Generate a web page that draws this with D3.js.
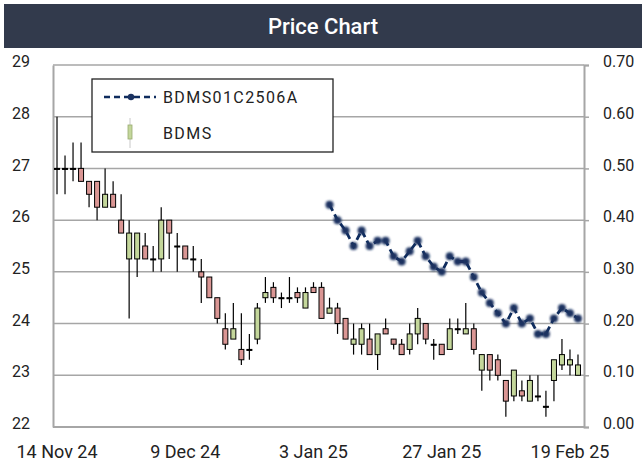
<!DOCTYPE html>
<html>
<head>
<meta charset="utf-8">
<script src="https://cdn.jsdelivr.net/npm/d3@7"></script>
<style>
  body { margin: 0; background: #fff; }
  text { font-family: Roboto, "Noto Sans", sans-serif; }
</style>
</head>
<body>
<div id="chart"></div>
<script>
// Trading days (SET), one candle each
const dates = [
  "14 Nov 24","15 Nov 24","18 Nov 24","19 Nov 24","20 Nov 24","21 Nov 24","22 Nov 24","25 Nov 24",
  "26 Nov 24","27 Nov 24","28 Nov 24","29 Nov 24","2 Dec 24","3 Dec 24","4 Dec 24","6 Dec 24",
  "9 Dec 24","11 Dec 24","12 Dec 24","13 Dec 24","16 Dec 24","17 Dec 24","18 Dec 24","19 Dec 24",
  "20 Dec 24","23 Dec 24","24 Dec 24","25 Dec 24","26 Dec 24","27 Dec 24","30 Dec 24","2 Jan 25",
  "3 Jan 25","6 Jan 25","7 Jan 25","8 Jan 25","9 Jan 25","10 Jan 25","13 Jan 25","14 Jan 25",
  "15 Jan 25","16 Jan 25","17 Jan 25","20 Jan 25","21 Jan 25","22 Jan 25","23 Jan 25","24 Jan 25",
  "27 Jan 25","28 Jan 25","29 Jan 25","30 Jan 25","31 Jan 25","3 Feb 25","4 Feb 25","5 Feb 25",
  "6 Feb 25","7 Feb 25","10 Feb 25","11 Feb 25","13 Feb 25","14 Feb 25","17 Feb 25","18 Feb 25",
  "19 Feb 25","20 Feb 25"
];

// BDMS OHLC
const open = [
  27, 27, 27, 27, 26.75, 26.75, 26.25, 26.5, 26, 25.25, 25.25, 25.5, 25.25, 25.25, 26, 25.5,
  25.5, 25.25, 25, 24.9, 24.5, 23.9, 23.7, 23.5, 23.5, 23.7, 24.5, 24.7, 24.5, 24.5, 24.6, 24.3,
  24.7, 24.7, 24.2, 24.3, 24.1, 23.6, 23.6, 23.7, 23.4, 23.9, 23.7, 23.6, 23.5, 23.8, 24.0, 23.6,
  23.6, 23.5, 23.9, 23.8, 23.9, 23.1, 23.4, 23.3, 22.9, 22.6, 22.7, 22.5, 22.6, 22.4, 22.9, 23.2,
  23.2, 23.0
];
const high = [
  28, 27.25, 27.5, 27.5, 26.75, 26.75, 27, 26.75, 26.5, 26, 25.75, 25.75, 25.5, 26.25, 26, 25.75,
  25.5, 25.5, 25.25, 24.9, 24.5, 24.2, 24.4, 24.2, 23.8, 24.4, 24.9, 24.8, 24.6, 24.9, 24.7, 24.7,
  24.8, 24.8, 24.5, 24.4, 24.1, 24.0, 24.0, 24.0, 23.8, 24.1, 23.7, 23.7, 24.0, 24.3, 24.0, 23.7,
  23.6, 24.1, 24.1, 24.4, 24.0, 23.4, 23.4, 23.4, 22.9, 23.1, 22.9, 23.0, 23.0, 22.7, 23.3, 23.7,
  23.5, 23.4
];
const low = [
  26.5, 26.5, 26.75, 26.75, 26.25, 26, 26.25, 26.25, 25.75, 24.1, 24.9, 25.25, 25, 25, 25.25, 25,
  25.25, 25, 24.4, 24.5, 24.0, 23.5, 23.7, 23.2, 23.3, 23.6, 24.4, 24.4, 24.3, 24.4, 24.4, 24.3,
  24.6, 24.1, 24.2, 23.8, 23.7, 23.4, 23.4, 23.4, 23.1, 23.8, 23.5, 23.4, 23.4, 23.6, 23.6, 23.3,
  23.4, 23.5, 23.8, 23.8, 23.4, 22.7, 22.9, 22.9, 22.2, 22.5, 22.5, 22.5, 22.5, 22.2, 22.5, 23.1,
  23.0, 23.0
];
const close = [
  27, 27, 27, 26.75, 26.5, 26.25, 26.5, 26.25, 25.75, 25.75, 25.75, 25.25, 25.25, 26, 25.75, 25.5,
  25.25, 25.25, 24.9, 24.5, 24.1, 23.6, 23.9, 23.3, 23.5, 24.3, 24.6, 24.5, 24.5, 24.5, 24.5, 24.6,
  24.6, 24.1, 24.3, 24.0, 23.7, 23.7, 23.9, 23.4, 23.8, 23.8, 23.6, 23.4, 23.8, 24.1, 23.7, 23.6,
  23.4, 23.9, 23.9, 23.9, 23.5, 23.4, 23.1, 23.0, 22.5, 23.1, 22.6, 22.9, 22.6, 22.4, 23.3, 23.4,
  23.3, 23.2
];

// BDMS01C2506A, starts on 7 Jan 25
const warrantStart = 34;
const warrant = [
  0.43, 0.40, 0.38, 0.35, 0.38, 0.35, 0.36, 0.36, 0.33, 0.32, 0.34, 0.36, 0.33, 0.31, 0.30, 0.33,
  0.32, 0.32, 0.29, 0.26, 0.24, 0.22, 0.20, 0.23, 0.20, 0.21, 0.18, 0.18, 0.21, 0.23, 0.22, 0.21
];

const leftTicks = [22, 23, 24, 25, 26, 27, 28, 29];
const rightTicks = [0, 0.1, 0.2, 0.3, 0.4, 0.5, 0.6, 0.7];
const dateTicks = ["14 Nov 24", "9 Dec 24", "3 Jan 25", "27 Jan 25", "19 Feb 25"];

const width = 642;
const height = 465;
const plot = { left: 53, right: 584, top: 65, bottom: 427 };

const svg = d3.select("#chart")
    .append("svg")
    .attr("width", width)
    .attr("height", height);

// soft edge on the line markers
const defs = svg.append("defs");
defs.append("filter").attr("id", "soft")
    .append("feGaussianBlur").attr("stdDeviation", 0.8);

// Title bar
svg.append("rect")
    .attr("x", 4).attr("y", 4)
    .attr("width", width - 4).attr("height", 44)
    .attr("fill", "#323a4c");
svg.append("text")
    .attr("x", 323).attr("y", 26)
    .attr("dy", "0.36em")
    .attr("text-anchor", "middle")
    .attr("fill", "#fff")
    .attr("font-size", 22)
    .attr("font-weight", 500)
    .text("Price Chart");

// Scales
const x = d3.scaleBand()
    .domain(d3.range(dates.length))
    .range([plot.left, 582]);

const yL = d3.scaleLinear().domain([22, 29]).range([plot.bottom, plot.top]);
const yR = d3.scaleLinear().domain([0, 0.7]).range([plot.bottom, plot.top]);

const cx = i => x(i) + x.bandwidth() / 2;

// Gridlines
svg.append("g")
    .selectAll("line")
    .data(leftTicks)
    .join("line")
    .attr("x1", plot.left).attr("x2", plot.right)
    .attr("y1", d => yL(d)).attr("y2", d => yL(d))
    .attr("stroke", "#a6a6a6")
    .attr("stroke-width", 1.5);

// Left axis
const leftAxis = svg.append("g")
    .attr("transform", `translate(${plot.left},0)`)
    .call(d3.axisLeft(yL).tickValues(leftTicks).tickSize(0).tickPadding(22).tickFormat(d3.format("d")));
leftAxis.select(".domain").attr("stroke", "#a6a6a6").attr("stroke-width", 2);
leftAxis.selectAll("text")
    .attr("font-size", 16).attr("fill", "#222")
    .attr("text-anchor", "start").attr("x", -41).attr("dy", "0.1em");

// Right axis
const rightAxis = svg.append("g")
    .attr("transform", `translate(${plot.right},0)`)
    .call(d3.axisRight(yR).tickValues(rightTicks).tickSize(5).tickPadding(14).tickFormat(d3.format(".2f")));
rightAxis.select(".domain").attr("stroke", "#a6a6a6").attr("stroke-width", 2);
rightAxis.selectAll(".tick line").attr("stroke", "#a6a6a6").attr("stroke-width", 1.5);
rightAxis.selectAll("text").attr("font-size", 16).attr("fill", "#222").attr("dy", "0.1em");

// Bottom axis
const bottomAxis = svg.append("g")
    .attr("transform", `translate(0,${plot.bottom})`)
    .call(d3.axisBottom(x)
        .tickValues(dateTicks.map(t => dates.indexOf(t)))
        .tickSize(0).tickPadding(18)
        .tickFormat(i => dates[i]));
bottomAxis.select(".domain")
    .attr("d", `M${plot.left},0H${plot.right}`)
    .attr("stroke", "#a6a6a6").attr("stroke-width", 2);
bottomAxis.selectAll("text").attr("font-size", 18).attr("fill", "#222");

// Candlesticks
const candles = svg.append("g")
    .selectAll("g")
    .data(d3.range(dates.length))
    .join("g");

candles.append("line")
    .attr("x1", cx).attr("x2", cx)
    .attr("y1", i => yL(high[i])).attr("y2", i => yL(low[i]))
    .attr("stroke", "#000")
    .attr("stroke-width", 1.2);

candles.append("rect")
    .attr("x", i => cx(i) - 2.5)
    .attr("width", 5)
    .attr("y", i => yL(Math.max(open[i], close[i])))
    .attr("height", i => Math.max(1, Math.abs(yL(open[i]) - yL(close[i]))))
    .attr("fill", i => close[i] > open[i] ? "#c4d79b" : close[i] < open[i] ? "#da9694" : "#000")
    .attr("stroke", "#000")
    .attr("stroke-width", 1);

// Warrant line (right axis)
const wData = warrant.map((v, k) => ({ i: warrantStart + k, v }));

svg.append("path")
    .datum(wData)
    .attr("fill", "none")
    .attr("stroke", "#0f2c5e")
    .attr("stroke-width", 2.8)
    .attr("stroke-dasharray", "7,4")
    .attr("d", d3.line().x(d => cx(d.i)).y(d => yR(d.v)));

svg.append("g")
    .attr("filter", "url(#soft)")
    .selectAll("circle")
    .data(wData)
    .join("circle")
    .attr("cx", d => cx(d.i))
    .attr("cy", d => yR(d.v))
    .attr("r", 4)
    .attr("fill", "#1a3160");

// Legend
const legend = svg.append("g");
legend.append("rect")
    .attr("x", 92).attr("y", 79)
    .attr("width", 241).attr("height", 73)
    .attr("fill", "#fff")
    .attr("stroke", "#222")
    .attr("stroke-width", 1.3);
legend.append("line")
    .attr("x1", 104).attr("x2", 156)
    .attr("y1", 97).attr("y2", 97)
    .attr("stroke", "#0f2c5e").attr("stroke-width", 2.4)
    .attr("stroke-dasharray", "6,4");
legend.append("circle")
    .attr("cx", 131).attr("cy", 97).attr("r", 3.2)
    .attr("fill", "#1a3160");
legend.append("text")
    .attr("x", 163).attr("y", 97).attr("dy", "0.36em")
    .attr("font-size", 16).attr("fill", "#222")
    .attr("letter-spacing", 1.4)
    .attr("font-family", "'DejaVu Sans', sans-serif")
    .text("BDMS01C2506A");
legend.append("line")
    .attr("x1", 130).attr("x2", 130)
    .attr("y1", 118).attr("y2", 148)
    .attr("stroke", "#c8c8c8").attr("stroke-width", 1);
legend.append("rect")
    .attr("x", 128).attr("y", 125)
    .attr("width", 4).attr("height", 14)
    .attr("fill", "#c4d79b")
    .attr("stroke", "#9aab70").attr("stroke-width", 0.8);
legend.append("text")
    .attr("x", 163).attr("y", 133).attr("dy", "0.36em")
    .attr("font-size", 16).attr("fill", "#222")
    .attr("letter-spacing", 1.4)
    .attr("font-family", "'DejaVu Sans', sans-serif")
    .text("BDMS");
</script>
</body>
</html>
